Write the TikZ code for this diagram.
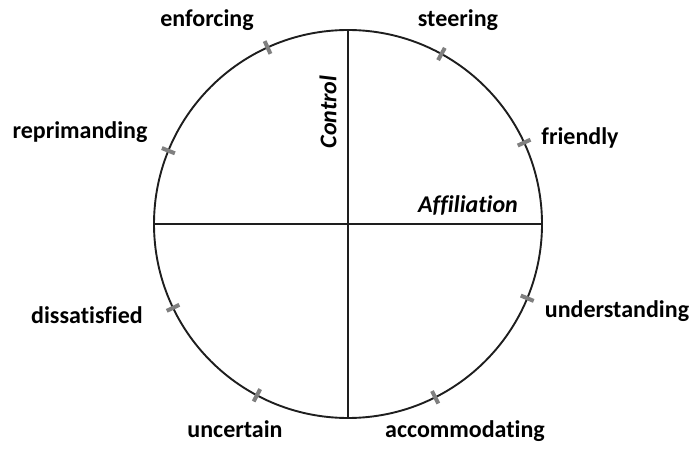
\documentclass[tikz,border=0pt]{standalone}
\usepackage{fontspec}
\setmainfont{Carlito}[Ligatures=CommonOff]
\usetikzlibrary{calc}
\definecolor{tickgray}{RGB}{128,128,128}
\definecolor{ink}{RGB}{30,30,30}
\begin{document}
\begin{tikzpicture}[x=1pt,y=1pt,
  lbl/.style={font=\fontsize{24}{27}\selectfont\bfseries, inner sep=0pt, anchor=base},
  axlbl/.style={font=\fontsize{24}{27}\selectfont\bfseries\itshape, inner sep=0pt},
  tick/.style={draw=tickgray, line width=4pt},
  ring/.style={draw=ink, line width=1.9pt},
  axis/.style={draw=ink, line width=1.1pt}]
\useasboundingbox (0,0) rectangle (692,450);
\coordinate (c) at (348,226);
\node[circle, ring, minimum size=388pt, inner sep=0pt] (ring) at (c) {};
\coordinate (top) at (348,420);
\coordinate (bot) at (348,32);
\coordinate (lft) at (154,226);
\coordinate (rgt) at (542,226);
\draw[axis] (top) -- (bot);
\draw[axis] (lft) -- (rgt);
\foreach \a in {24.8,61.2,114.5,157.8,205.6,242,296.7,337.5}{
  \draw[tick] ($(c)+(\a:187)$) -- ($(c)+(\a:201)$);
}
\node[lbl] (enf) at (207,423) {enforcing};
\node[lbl] (ste) at (458,423) {steering};
\node[lbl] (rep) at (80,311) {reprimanding};
\node[lbl] (fri) at (580,305) {friendly};
\node[lbl] (dis) at (87,127) {dissatisfied};
\node[lbl] (und) at (617,133) {understanding};
\node[lbl] (unc) at (235,13) {uncertain};
\node[lbl] (acc) at (465,13) {accommodating};
\node[axlbl, rotate=90] (ctl) at (328,338) {Control};
\node[axlbl] (aff) at (468,245) {Affiliation};
\end{tikzpicture}
\end{document}
